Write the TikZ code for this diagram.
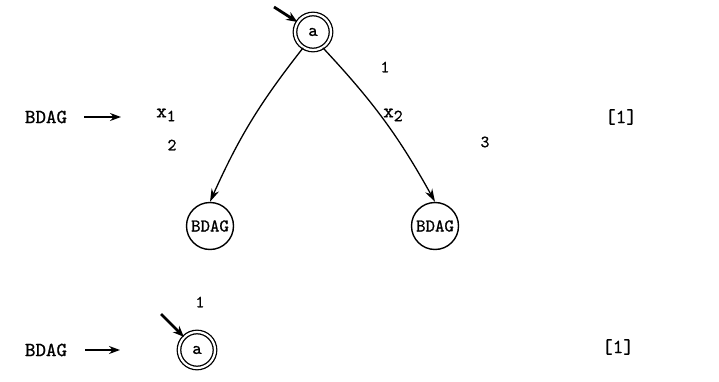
\documentclass[tikz,border=0pt]{standalone}
\usepackage{fontspec}
\newfontfamily\twfont{lmmono10-regular.otf}[FakeBold=0.9]
\usetikzlibrary{arrows.meta}
\begin{document}
\begin{tikzpicture}[x=1pt,y=-1pt,
  txt/.style={font=\twfont\fontsize{20}{20}\selectfont, inner sep=0pt},
  lbl/.style={font=\twfont\fontsize{17}{17}\selectfont, inner sep=0pt},
  state/.style={circle, draw, line width=1.4pt, minimum size=47pt, inner sep=0pt,
    font=\twfont\fontsize{18}{18}\selectfont},
  accept/.style={circle, draw, line width=1.3pt, double, double distance=2.2pt,
    minimum size=36pt, inner sep=0pt, font=\twfont\fontsize{18}{18}\selectfont},
  edge/.style={line width=1.3pt, -{Stealth[length=13pt,width=8pt]}},
  entry/.style={line width=2.8pt, -{Stealth[length=11pt,width=9pt]}},
  feed/.style={line width=1.6pt, -{Stealth[length=11pt,width=8pt]}}]
\useasboundingbox (0,0) rectangle (719,382);

% first rule: a tree with two sub-dags
\node[txt] (lhs1) at (46,117) {BDAG};
\coordinate (f1s) at (84,117);
\coordinate (f1e) at (121,117);
\draw[feed] (f1s) -- (f1e);

\node[accept] (a1) at (313,32) {a};
\coordinate (e1) at (274,7);
\draw[entry] (e1) -- (a1);

\node[state] (b1) at (210,226) {BDAG};
\node[state] (b2) at (435,226) {BDAG};
\draw[edge] (a1.238) to[bend right=7] (b1.north);
\draw[edge] (a1.302) to[bend left=7] (b2.north);

\node[lbl] (l1) at (385,67) {1};
\node[txt] (x1) at (166,115) {x\raisebox{-0.45ex}{\fontsize{17}{17}\selectfont 1}};
\node[lbl] (n2) at (172,145) {2};
\node[txt] (x2) at (393,115) {x\raisebox{-0.45ex}{\fontsize{17}{17}\selectfont 2}};
\node[lbl] (n3) at (485,142) {3};
\node[txt] (r1) at (621,117) {[1]};

% second rule: a single leaf
\node[txt] (lhs2) at (46,350) {BDAG};
\coordinate (f2s) at (85,350);
\coordinate (f2e) at (120,350);
\draw[feed] (f2s) -- (f2e);

\node[accept] (a2) at (197,350) {a};
\coordinate (e2) at (161,314);
\draw[entry] (e2) -- (a2);
\node[lbl] (l2) at (200,302) {1};
\node[txt] (r2) at (618,347) {[1]};
\end{tikzpicture}
\end{document}
